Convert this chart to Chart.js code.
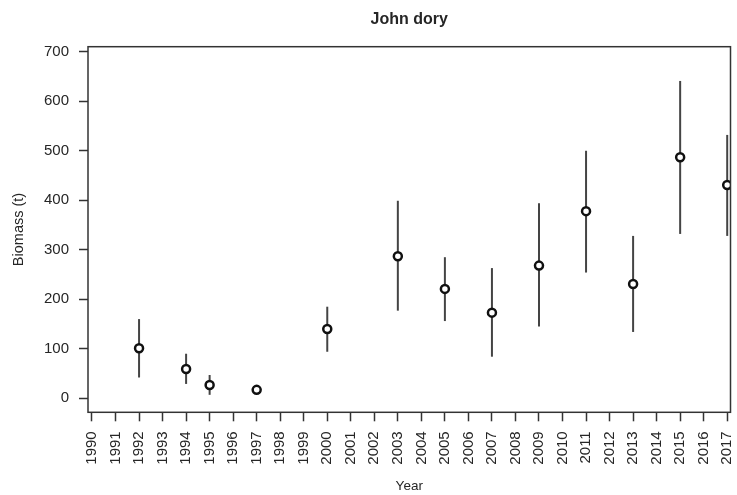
<!DOCTYPE html>
<html>
<head>
<meta charset="utf-8">
<script src="https://cdn.jsdelivr.net/npm/chart.js@4/dist/chart.umd.min.js"></script>
<style>
  html, body { margin: 0; padding: 0; background: #fff; }
  #wrap { width: 737px; height: 495px; }
</style>
</head>
<body>
<div id="wrap"><canvas id="chart" width="737" height="495"></canvas></div>
<script>
// survey years with an estimate
const years = [1992, 1994, 1995, 1997, 2000, 2003, 2005, 2007, 2009, 2011, 2013, 2015, 2017];
const biomass = [101, 59, 27, 17, 140, 287, 221, 173, 268, 378, 231, 487, 431];
const lower = [42, 29, 7, 11, 94, 177, 156, 84, 145, 254, 134, 332, 328];
const upper = [160, 90, 47, 23, 185, 399, 285, 263, 394, 500, 328, 641, 532];

// axis ticks
const axisYears = [];
for (let y = 1990; y <= 2017; y++) axisYears.push(y);
const biomassTicks = [0, 100, 200, 300, 400, 500, 600, 700];

const TEXT = '#262626';
const LINE = '#333';
const FONT = '"Liberation Sans", Arial, Helvetica, sans-serif';

// vertical error bars + box around the plot
const errorBars = {
  id: 'errorBars',
  beforeDatasetsDraw(chart) {
    const { ctx, scales: { x, y } } = chart;
    ctx.save();
    ctx.strokeStyle = '#444';
    ctx.lineWidth = 2;
    years.forEach((yr, i) => {
      const px = x.getPixelForValue(yr);
      ctx.beginPath();
      ctx.moveTo(px, y.getPixelForValue(lower[i]));
      ctx.lineTo(px, y.getPixelForValue(upper[i]));
      ctx.stroke();
    });
    ctx.restore();
  },
  afterDraw(chart) {
    const { ctx, chartArea: a } = chart;
    ctx.save();
    ctx.strokeStyle = LINE;
    ctx.lineWidth = 1.5;
    ctx.strokeRect(a.left, a.top, a.right - a.left, a.bottom - a.top);
    ctx.restore();
  }
};

new Chart(document.getElementById('chart'), {
  type: 'scatter',
  data: {
    datasets: [{
      data: years.map((yr, i) => ({ x: yr, y: biomass[i] })),
      pointStyle: 'circle',
      pointRadius: 4,
      pointBorderWidth: 2.5,
      pointBackgroundColor: '#fff',
      pointBorderColor: '#111',
      showLine: false
    }]
  },
  plugins: [errorBars],
  options: {
    responsive: false,
    animation: false,
    events: [],
    layout: { padding: { left: 0, right: 4.7, top: 0, bottom: 0 } },
    plugins: {
      legend: { display: false },
      tooltip: { enabled: false },
      title: {
        display: true,
        text: 'John dory',
        fullSize: false,
        color: TEXT,
        font: { family: FONT, size: 16, weight: 'bold' },
        padding: { top: 10, bottom: 17.5 }
      }
    },
    scales: {
      x: {
        type: 'linear',
        min: 1989.83,
        max: 2017.14,
        afterBuildTicks: s => { s.ticks = axisYears.map(v => ({ value: v })); },
        afterFit: s => { s.height = 82.7; s.paddingLeft = 0; s.paddingRight = 0; },
        border: { display: false },
        grid: { drawOnChartArea: false, drawTicks: true, tickLength: 9, tickColor: LINE, tickWidth: 1.5 },
        ticks: {
          autoSkip: false,
          minRotation: 90,
          maxRotation: 90,
          padding: 10,
          color: TEXT,
          font: { family: FONT, size: 15 },
          callback: v => String(v)
        },
        title: {
          display: true,
          text: 'Year',
          color: TEXT,
          font: { family: FONT, size: 13.5 },
          padding: { top: 0, bottom: 1 }
        }
      },
      y: {
        type: 'linear',
        min: -28.3,
        max: 710.2,
        afterBuildTicks: s => { s.ticks = biomassTicks.map(v => ({ value: v })); },
        afterFit: s => { s.width = 88; s.paddingTop = 0; s.paddingBottom = 0; },
        border: { display: false },
        grid: { drawOnChartArea: false, drawTicks: true, tickLength: 9, tickColor: LINE, tickWidth: 1.5 },
        ticks: {
          padding: 10,
          color: TEXT,
          font: { family: FONT, size: 15 },
          callback: v => String(v)
        },
        title: {
          display: true,
          text: 'Biomass (t)',
          color: TEXT,
          font: { family: FONT, size: 14.5 },
          padding: { top: 10, bottom: 0 }
        }
      }
    }
  }
});
</script>
</body>
</html>
